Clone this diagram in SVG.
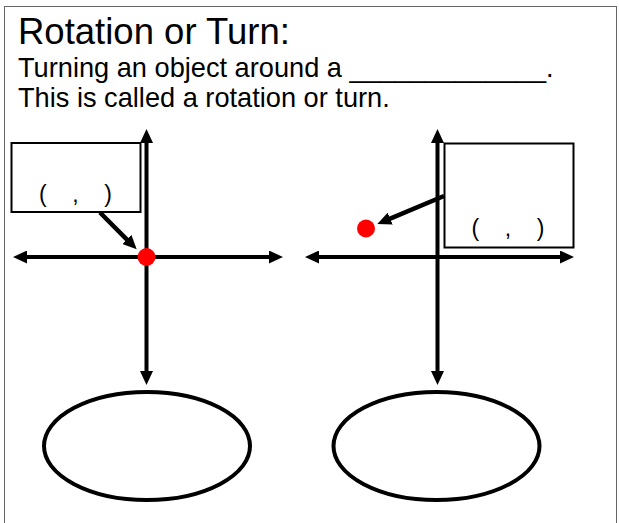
<svg xmlns="http://www.w3.org/2000/svg" width="619" height="523" viewBox="0 0 619 523">
<defs>
<marker id="ah" markerUnits="userSpaceOnUse" markerWidth="15" markerHeight="13" refX="2" refY="6.5" orient="auto-start-reverse" viewBox="0 0 15 13">
<path d="M0,0 L14,6.5 L0,13 z" fill="#000"/>
</marker>
<style>
.t{font-family:"Liberation Sans",Arial,sans-serif;fill:#000}
.ax{stroke:#000;stroke-width:4;fill:none;marker-start:url(#ah);marker-end:url(#ah)}
.cn{stroke:#000;stroke-width:4.5;fill:none;marker-end:url(#ah)}
.box{fill:#fff;stroke:#000;stroke-width:2}
.ov{fill:#fff;stroke:#000;stroke-width:4}
.dot{fill:#ff0000}
.co{font-family:"Liberation Sans",Arial,sans-serif;font-size:23px;white-space:pre;text-anchor:middle}
</style>
</defs>
<rect x="0" y="0" width="619" height="523" fill="#fff"/>
<rect x="4.5" y="6.5" width="612" height="530" fill="none" stroke="#666" stroke-width="1"/>
<g id="title">
<text class="t" x="18" y="44" font-size="36.5">Rotation or Turn:</text>
<text class="t" x="18" y="77" font-size="27.2">Turning an object around a _____________.</text>
<text class="t" x="18" y="107" font-size="27.2">This is called a rotation or turn.</text>
</g>
<g id="left-graph">
<g id="left-axes">
<line class="ax" x1="25" y1="257" x2="271" y2="257"/>
<line class="ax" x1="146.5" y1="141" x2="146.5" y2="373"/>
</g>
<g id="left-box">
<rect class="box" x="11.5" y="143" width="129" height="69"/>
<text class="co" x="75.5" y="202" xml:space="preserve">(    ,    )</text>
</g>
<g id="left-dot"><circle class="dot" cx="146.5" cy="257" r="9"/></g>
<g id="left-oval"><ellipse class="ov" cx="147" cy="446" rx="103" ry="54"/></g>
</g>
<g id="right-graph">
<g id="right-axes">
<line class="ax" x1="317" y1="257" x2="562" y2="257"/>
<line class="ax" x1="437.5" y1="141" x2="437.5" y2="373"/>
</g>
<g id="right-box">
<rect class="box" x="444.5" y="143.5" width="129" height="104"/>
<text class="co" x="508" y="236" xml:space="preserve">(    ,    )</text>
</g>
<g id="right-dot"><circle class="dot" cx="366" cy="228.5" r="9"/></g>
<g id="right-oval"><ellipse class="ov" cx="436.5" cy="446" rx="103" ry="54"/></g>
</g>
<g id="connectors">
<line class="cn" x1="100" y1="212.5" x2="128.2" y2="240.8"/>
<line class="cn" x1="444" y1="196" x2="388.4" y2="219.4"/>
</g>
</svg>
